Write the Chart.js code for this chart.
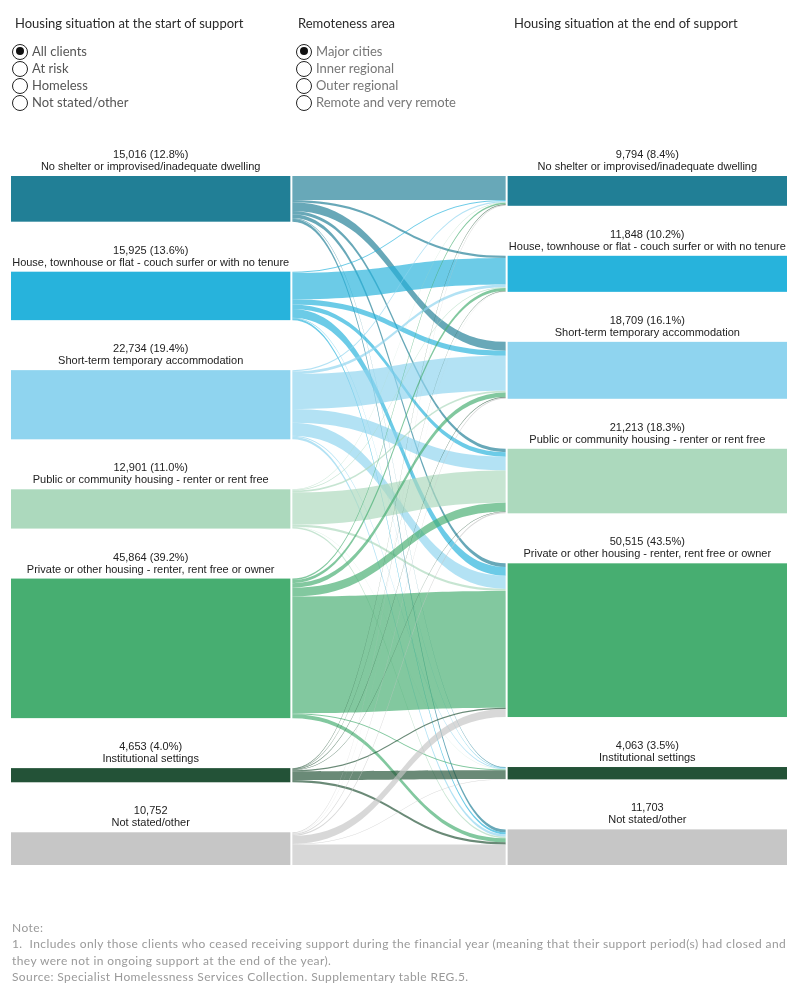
<!DOCTYPE html>
<html>
<head>
<meta charset="utf-8">
<script src="https://cdn.jsdelivr.net/npm/chart.js@4.4.0/dist/chart.umd.min.js"></script>
<style>
  html, body { margin: 0; padding: 0; background: #fff; }
  #wrap { position: relative; width: 800px; height: 1000px; overflow: hidden; }
  #c { position: absolute; left: 0; top: 0; }
  .t { position: absolute; white-space: nowrap; font-family: Lato, "Open Sans", sans-serif; }
  .hdr { font-size: 13px; color: #2a2a2a; }
  .radio { position: absolute; font-family: Lato, sans-serif; font-size: 13px; line-height: 17px; white-space: nowrap; }
  .radio .o { position: absolute; left: -20px; top: 0.5px; width: 16px; height: 16px; border: 1.3px solid #222; border-radius: 50%; box-sizing: border-box; background: transparent; }
  .radio .o.sel::after { content: ""; position: absolute; left: 2.6px; top: 2.6px; width: 8.2px; height: 8.2px; border-radius: 50%; background: #111; }
  .note { font-family: Lato, sans-serif; font-size: 12px; line-height: 16px; letter-spacing: 0.4px; color: #9a9a9a; }
</style>
</head>
<body>
<div id="wrap">
  <canvas id="c" width="800" height="1000"></canvas>
  <div class="t hdr" style="left:15px; top:15px;">Housing situation at the start of support</div>
  <div class="t hdr" style="left:298px; top:15px;">Remoteness area</div>
  <div class="t hdr" style="left:514px; top:15px;">Housing situation at the end of support</div>
  <div id="radios1"></div>
  <div id="radios2"></div>
  <div class="t note" style="left:12px; top:920px;">Note:</div>
  <div class="t note" style="left:12px; top:936px;">1.&nbsp;&nbsp;Includes only those clients who ceased receiving support during the financial year (meaning that their support period(s) had closed and</div>
  <div class="t note" style="left:12px; top:953px;">they were not in ongoing support at the end of the year).</div>
  <div class="t note" style="left:12px; top:969px;">Source: Specialist Homelessness Services Collection. Supplementary table REG.5.</div>
</div>
<script>
// ---------------- data ----------------
const categories = [
  'No shelter or improvised/inadequate dwelling',
  'House, townhouse or flat - couch surfer or with no tenure',
  'Short-term temporary accommodation',
  'Public or community housing - renter or rent free',
  'Private or other housing - renter, rent free or owner',
  'Institutional settings',
  'Not stated/other'
];
const startClients = [15016, 15925, 22734, 12901, 45864, 4653, 10752];
const startPercent = ['12.8%', '13.6%', '19.4%', '11.0%', '39.2%', '4.0%', null];
const endClients = [9794, 11848, 18709, 21213, 50515, 4063, 11703];
const endPercent = ['8.4%', '10.2%', '16.1%', '18.3%', '43.5%', '3.5%', null];

// clients moving from a start situation (array name) to each end situation (array order = categories)
const fromNoShelter      = [7900, 700, 2900, 1100, 1200, 250, 966];
const fromCouchSurfer    = [350, 8700, 1700, 1500, 2900, 150, 625];
const fromShortTerm      = [400, 900, 11500, 4500, 4300, 300, 834];
const fromPublic         = [150, 300, 550, 10600, 700, 100, 501];
const fromPrivate        = [500, 1000, 1500, 2900, 38400, 300, 1264];
const fromInstitutional  = [200, 100, 200, 200, 400, 2800, 753];
const fromNotStated      = [294, 148, 359, 413, 2615, 163, 6760];

const housingFilter = ['All clients', 'At risk', 'Homeless', 'Not stated/other'];
const remotenessFilter = ['Major cities', 'Inner regional', 'Outer regional', 'Remote and very remote'];

// ---------------- styling / layout ----------------
const nodeColors = ['#217f96', '#27b3dc', '#8fd4ef', '#acd9bd', '#47ae71', '#235237', '#c6c6c6'];
const flowAlpha = 0.68;
const nodeWidth = 0.36;          // fraction of x-range used by each node column
const nodeGap = 16433;           // gap between nodes, in client units on the y scale

const flows = [fromNoShelter, fromCouchSurfer, fromShortTerm, fromPublic, fromPrivate, fromInstitutional, fromNotStated];
const total = startClients.reduce((a, b) => a + b, 0);
const yMax = total + nodeGap * (categories.length - 1);

function hexA(hex, a) {
  const n = parseInt(hex.slice(1), 16);
  return `rgba(${(n >> 16) & 255},${(n >> 8) & 255},${n & 255},${a})`;
}
function fmt(v) { return v.toLocaleString('en-US'); }

// radio filters (HTML)
function radios(id, items, x, labelColor) {
  const el = document.getElementById(id);
  items.forEach((s, i) => {
    const d = document.createElement('div');
    d.className = 'radio';
    d.style.left = x + 'px';
    d.style.top = (43 + i * 17) + 'px';
    d.style.color = labelColor;
    d.innerHTML = `<span class="o${i === 0 ? ' sel' : ''}"></span>${s}`;
    el.appendChild(d);
  });
}
radios('radios1', housingFilter, 32, '#555');
radios('radios2', remotenessFilter, 316, '#777');

// ---------------- sankey plugin (uses chart scales) ----------------
const sankeyPlugin = {
  id: 'sankey',
  afterDatasetsDraw(chart) {
    const { ctx, scales: { x, y } } = chart;
    const n = categories.length;
    const startTop = [], endTop = [];
    let acc = 0;
    for (let i = 0; i < n; i++) { startTop.push(acc); acc += startClients[i] + nodeGap; }
    acc = 0;
    for (let j = 0; j < n; j++) { endTop.push(acc); acc += endClients[j] + nodeGap; }

    const xL0 = x.getPixelForValue(0), xL1 = x.getPixelForValue(nodeWidth);
    const xR0 = x.getPixelForValue(1 - nodeWidth), xR1 = x.getPixelForValue(1);
    const xs = xL1 + 2, xe = xR0 - 2, xm = (xs + xe) / 2;

    ctx.save();
    const outOff = startTop.slice();
    const inOff = endTop.slice();
    const bands = [];
    for (let i = 0; i < n; i++) {
      for (let j = 0; j < n; j++) {
        const v = flows[i][j];
        bands.push({ i, j, s0: outOff[i], s1: outOff[i] + v, e0: inOff[j], e1: inOff[j] + v });
        outOff[i] += v;
        inOff[j] += v;
      }
    }
    bands.forEach(b => {
      const a0 = y.getPixelForValue(b.s0), a1 = y.getPixelForValue(b.s1);
      const c0 = y.getPixelForValue(b.e0), c1 = y.getPixelForValue(b.e1);
      ctx.beginPath();
      ctx.moveTo(xs, a0);
      ctx.bezierCurveTo(xm, a0, xm, c0, xe, c0);
      ctx.lineTo(xe, c1);
      ctx.bezierCurveTo(xm, c1, xm, a1, xs, a1);
      ctx.closePath();
      ctx.fillStyle = hexA(nodeColors[b.i], flowAlpha);
      ctx.fill();
    });

    ctx.font = '11px "Liberation Sans", Arial, sans-serif';
    ctx.textAlign = 'center';
    ctx.textBaseline = 'middle';
    for (let i = 0; i < n; i++) {
      const t = y.getPixelForValue(startTop[i]), b = y.getPixelForValue(startTop[i] + startClients[i]);
      ctx.fillStyle = nodeColors[i];
      ctx.fillRect(xL0, t, xL1 - xL0, b - t);
      ctx.fillStyle = '#222';
      const cx = (xL0 + xL1) / 2;
      ctx.fillText(fmt(startClients[i]) + (startPercent[i] ? ' (' + startPercent[i] + ')' : ''), cx, t - 21);
      ctx.fillText(categories[i], cx, t - 9);
    }
    for (let j = 0; j < n; j++) {
      const t = y.getPixelForValue(endTop[j]), b = y.getPixelForValue(endTop[j] + endClients[j]);
      ctx.fillStyle = nodeColors[j];
      ctx.fillRect(xR0, t, xR1 - xR0, b - t);
      ctx.fillStyle = '#222';
      const cx = (xR0 + xR1) / 2;
      ctx.fillText(fmt(endClients[j]) + (endPercent[j] ? ' (' + endPercent[j] + ')' : ''), cx, t - 21);
      ctx.fillText(categories[j], cx, t - 9);
    }
    ctx.restore();
  }
};

new Chart(document.getElementById('c'), {
  type: 'scatter',
  data: { datasets: [{ data: [], pointRadius: 0 }] },
  options: {
    responsive: false,
    animation: false,
    layout: { padding: { left: 11, right: 13, top: 176, bottom: 135 } },
    plugins: { legend: { display: false }, tooltip: { enabled: false } },
    scales: {
      x: { type: 'linear', display: false, min: 0, max: 1 },
      y: { type: 'linear', display: false, min: 0, max: yMax, reverse: true }
    }
  },
  plugins: [sankeyPlugin]
});
</script>
</body>
</html>
